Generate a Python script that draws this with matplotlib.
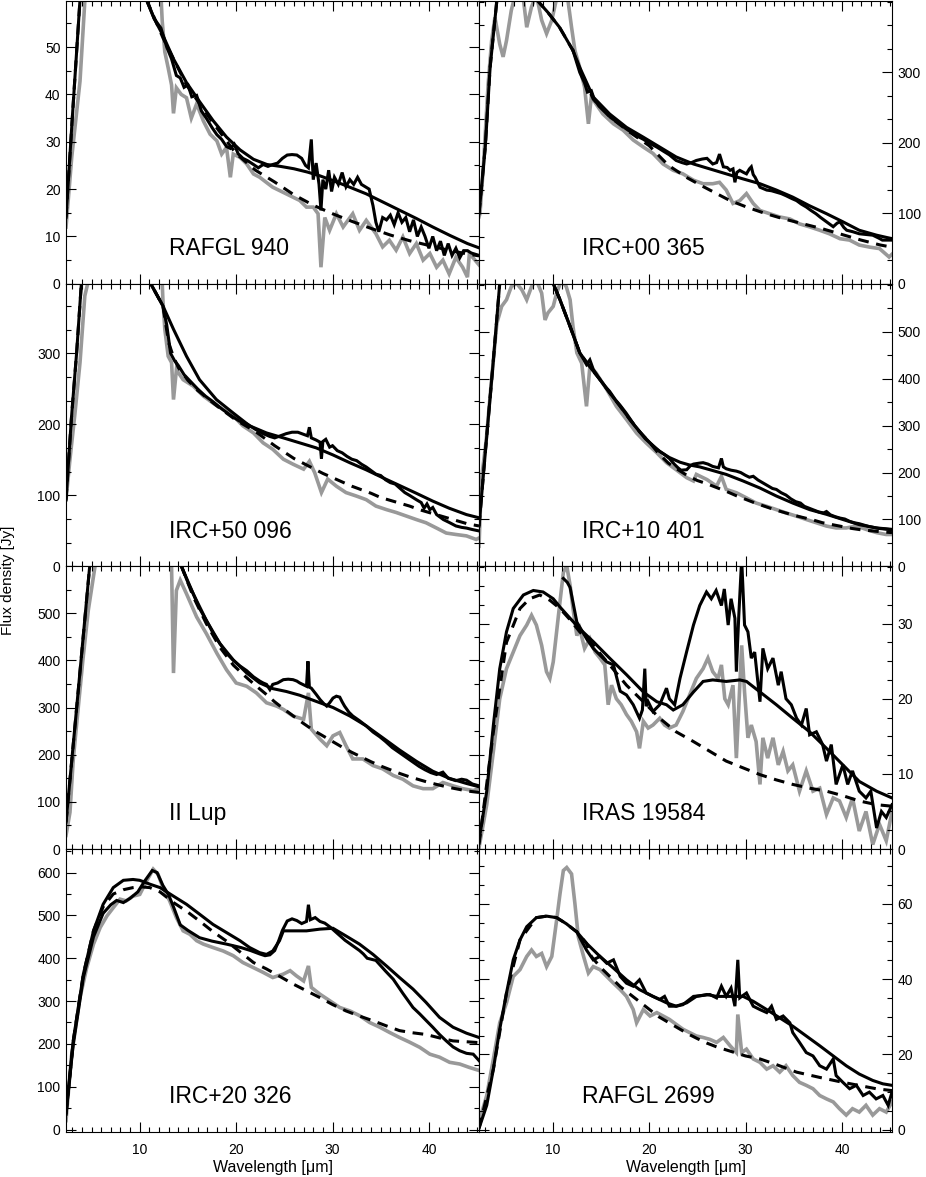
import numpy as np
import matplotlib.pyplot as plt
from matplotlib.ticker import MultipleLocator, AutoMinorLocator

plt.rcParams['font.family'] = ['Liberation Sans', 'DejaVu Sans']

# (wavelength [um], flux [Jy]), one list per curve

# RAFGL 940
afgl940_gray = [(2.35, 12), (2.94, 26.7), (3.8, 42.8), (4.3, 59.7), (5.0, 90), (8.0, 110), (11.5, 90),
                (12.33, 55.5), (12.6, 49), (12.95, 45.6), (13.3, 42), (13.5, 36), (13.8, 41.4), (14.3, 40),
                (14.85, 39.3), (15.35, 35), (15.9, 38), (16.6, 34.4), (17.3, 31.6), (18.0, 30.2), (18.5, 27.4),
                (19.0, 28.8), (19.4, 22.5), (19.7, 27.4), (20.4, 26.7), (21.1, 25.3), (21.8, 23.2), (22.45, 22.5),
                (23.15, 21.4), (23.8, 20.4), (24.5, 19.7), (25.2, 19.0), (25.9, 18.3), (26.6, 17.6), (27.3, 16.2),
                (28.0, 16.2), (28.5, 14.8), (28.8, 3.5), (29.2, 14), (29.7, 11.3), (30.4, 14.8), (31.1, 12),
                (32.1, 14.8), (32.8, 11.3), (33.5, 13.4), (34.5, 10.6), (35.2, 7.8), (35.9, 9.2), (36.6, 7.1),
                (37.3, 9.9), (38.0, 6.4), (38.7, 8.5), (39.4, 5), (40.1, 6.4), (40.8, 3.5), (41.45, 5),
                (42.1, 2.1), (42.8, 5.6), (43.5, 3.5), (44.0, 1.4), (44.2, 6.4), (45.2, 4)]
afgl940_dash = [(2.35, 14), (3.0, 35), (3.8, 60), (4.5, 80), (6.0, 110), (8.0, 110), (9.5, 85), (10.7, 60),
                (12.4, 52), (14.85, 42), (17.6, 34), (20.0, 27.5), (22.0, 24), (24.0, 21.5), (26.0, 18.8),
                (28.0, 16.6), (30.0, 14.8), (32.0, 13.2), (34.0, 11.7), (36.0, 10.3), (38.0, 9.1), (40.0, 8.1),
                (42.0, 7.1), (44.0, 6.3), (45.2, 5.9)]
afgl940_model = [(2.35, 14), (3.0, 35), (3.8, 60), (4.5, 80), (6.0, 110), (8.0, 110), (9.5, 85), (10.7, 60),
                 (11.5, 56), (12.4, 52.5), (13.5, 47.5), (14.85, 42.5), (16.2, 38.5), (17.6, 34.5), (19.0, 31),
                 (20.4, 28.3), (21.8, 26.3), (23.2, 25.2), (24.6, 24.8), (26.0, 24.3), (27.4, 23.6), (28.7, 22.8),
                 (30.05, 21.8), (31.8, 20.4), (33.5, 19), (35.2, 17.3), (37.0, 15.5), (38.7, 13.8), (40.4, 12),
                 (42.2, 10.2), (44.0, 8.5), (45.2, 7.6)]
afgl940_obs = [(10.7, 60), (11.5, 56), (12.2, 54), (12.8, 50), (13.3, 47.5), (13.8, 44), (14.2, 43.5),
               (14.6, 41.5), (15.0, 42), (15.4, 39.5), (15.9, 39.8), (16.4, 36.5), (16.9, 35), (17.5, 33),
               (18.0, 31.5), (18.5, 30.5), (19.0, 29), (19.4, 28.6), (19.8, 29.5), (20.2, 27.5), (20.7, 26.5),
               (21.2, 26), (21.8, 25.2), (22.3, 24.5), (22.8, 25.2), (23.3, 24.8), (23.8, 25.2), (24.3, 25.5),
               (24.8, 26.5), (25.3, 27.2), (25.8, 27.3), (26.3, 27.2), (26.8, 26.5), (27.2, 25), (27.5, 24.5),
               (27.8, 30.5), (28.0, 22), (28.3, 25.5), (28.6, 21), (28.8, 15.5), (29.0, 22), (29.3, 20),
               (29.6, 24), (29.9, 19.5), (30.2, 22.5), (30.6, 21), (31.0, 23.5), (31.4, 20.5), (31.8, 22),
               (32.2, 21), (32.6, 22.5), (33.0, 21), (33.4, 20.5), (33.8, 20), (34.2, 16.5), (34.5, 13),
               (34.8, 11), (35.2, 14), (35.6, 13.5), (36.0, 14.5), (36.4, 12.5), (36.8, 15), (37.2, 13),
               (37.6, 14), (38.0, 11), (38.4, 13.5), (38.8, 10), (39.2, 12), (39.6, 10), (40.0, 7.5),
               (40.4, 10), (40.8, 7), (41.2, 9), (41.6, 6), (42.0, 8.5), (42.4, 6), (42.8, 7.5), (43.2, 5.5),
               (43.6, 7), (44.0, 7), (44.4, 6.5), (45.2, 6)]

# IRC+00 365
irc00365_gray = [(2.35, 95), (2.45, 99.5), (2.8, 166), (3.3, 284), (3.66, 345), (4.0, 378), (4.5, 340),
                 (4.85, 322), (5.2, 345), (5.7, 388), (6.1, 410), (6.9, 410), (7.3, 364), (7.8, 393), (8.3, 410),
                 (8.85, 374), (9.36, 355), (9.9, 374), (10.4, 405), (11.5, 410), (11.95, 364), (12.3, 331),
                 (12.8, 307), (13.3, 279), (13.7, 227), (14.0, 265), (14.5, 255), (15.2, 241), (16.3, 227),
                 (17.3, 218), (18.35, 204), (19.4, 194), (20.4, 185), (21.45, 170), (22.5, 161), (23.5, 156),
                 (24.6, 147), (25.6, 142), (26.6, 142), (27.3, 144), (28.0, 133), (28.7, 114), (29.4, 118),
                 (30.1, 128), (30.8, 114), (31.5, 104), (32.5, 99.5), (33.5, 95), (34.6, 92), (35.6, 85),
                 (36.6, 81), (37.7, 76), (38.7, 71), (39.8, 64), (40.8, 62), (41.8, 55), (42.9, 52), (43.9, 50),
                 (44.9, 38), (45.2, 42)]
irc00365_dash = [(2.35, 99.5), (3.0, 194), (3.5, 307), (4.2, 402), (5.5, 470), (6.5, 480), (8.0, 420),
                 (8.4, 402), (9.5, 385), (10.7, 364), (12.1, 331), (12.8, 305), (14.2, 262), (16.0, 236),
                 (18.0, 215), (20.0, 196), (22.0, 168), (24.0, 150), (25.6, 138), (27.0, 128), (28.4, 118),
                 (30.1, 109), (32.0, 100), (34.0, 92), (36.0, 85), (38.0, 78), (40.0, 70), (42.0, 62),
                 (44.0, 55), (45.2, 52)]
irc00365_model = [(2.35, 99.5), (3.0, 194), (3.5, 307), (4.2, 402), (5.5, 470), (6.5, 480), (8.0, 420),
                  (8.4, 402), (9.5, 385), (10.7, 364), (12.1, 331), (12.8, 307), (14.2, 265), (15.9, 241),
                  (17.65, 222), (19.4, 208), (21.1, 194), (22.8, 180), (24.6, 170), (26.3, 163), (28.0, 156),
                  (29.7, 149), (31.5, 142), (33.2, 133), (34.9, 123), (36.6, 111), (38.4, 99.5), (40.1, 88),
                  (41.8, 76), (43.6, 69), (45.2, 64)]
irc00365_obs = [(12.1, 331), (12.8, 300), (13.3, 285), (13.6, 272), (14.0, 274), (14.3, 262), (14.8, 252),
                (15.4, 244), (16.0, 236), (16.6, 230), (17.3, 223), (18.0, 216), (18.7, 210), (19.4, 205),
                (20.1, 199), (20.8, 194), (21.5, 188), (22.1, 183), (22.8, 175), (23.4, 172), (23.9, 170),
                (24.4, 172), (24.9, 175), (25.5, 177), (26.0, 178), (26.6, 170), (27.0, 172), (27.3, 184),
                (27.7, 166), (28.1, 165), (28.4, 161), (28.7, 163), (28.9, 144), (29.1, 158), (29.4, 161),
                (29.8, 158), (30.1, 156), (30.4, 163), (30.6, 166), (30.8, 155), (31.0, 151), (31.5, 137),
                (32.2, 133), (32.7, 132), (33.2, 130), (33.7, 128), (34.2, 125), (34.8, 121), (35.3, 118),
                (35.8, 113), (36.3, 109), (36.8, 104), (37.3, 99.5), (37.8, 94), (38.4, 88), (38.8, 84),
                (39.1, 81), (39.5, 86), (39.8, 88), (40.2, 80), (40.5, 76), (41.1, 74), (41.8, 71), (42.5, 70),
                (43.2, 69), (43.8, 65), (44.2, 62), (44.7, 62), (45.2, 62)]

# IRC+50 096
irc50096_gray = [(2.35, 94), (2.76, 151), (3.28, 216), (3.8, 287), (4.3, 381), (4.7, 404), (6.0, 480),
                 (10.0, 480), (12.3, 410), (12.4, 376), (12.6, 334), (12.95, 296), (13.3, 287), (13.5, 235),
                 (13.8, 277), (14.5, 263), (15.55, 254), (16.6, 240), (17.6, 230), (18.65, 221), (19.7, 212),
                 (20.7, 198), (21.8, 188), (22.8, 174), (23.8, 165), (24.9, 151), (25.9, 144), (27.0, 137),
                 (27.6, 148), (28.15, 132), (28.85, 104), (29.5, 123), (30.4, 113), (31.4, 104), (32.5, 99),
                 (33.5, 94), (34.5, 85), (35.6, 80), (36.6, 76), (37.65, 71), (38.7, 66), (39.7, 61.5),
                 (40.8, 54), (41.8, 47), (42.8, 45), (43.9, 43), (44.9, 38), (45.2, 40)]
irc50096_dash = [(2.35, 94), (2.9, 207), (3.45, 301), (3.97, 404), (5.0, 500), (8.0, 520), (10.0, 450),
                 (10.9, 404), (12.4, 367), (13.0, 315), (13.5, 295), (14.0, 280), (15.0, 262), (16.0, 248),
                 (17.0, 237), (18.0, 226), (19.0, 216), (20.0, 206), (21.0, 198), (22.0, 190), (23.0, 180),
                 (24.0, 170), (25.0, 161), (26.0, 152), (27.0, 145), (28.0, 138), (29.0, 131), (30.0, 125),
                 (31.0, 119), (32.0, 113), (33.0, 108), (34.0, 103), (35.0, 97), (36.0, 93), (37.0, 89),
                 (38.0, 85), (39.0, 80), (40.0, 76), (41.0, 72), (42.0, 68), (43.0, 64), (44.0, 60), (45.2, 57)]
irc50096_model = [(2.35, 94), (2.9, 207), (3.45, 301), (3.97, 404), (5.0, 500), (8.0, 520), (10.0, 450),
                  (10.9, 404), (12.4, 367), (13.5, 334), (14.85, 296), (16.2, 263), (17.95, 235), (19.7, 216),
                  (21.4, 198), (23.15, 188), (24.9, 181), (26.6, 174), (28.3, 167), (30.05, 157), (31.8, 146),
                  (33.5, 136), (35.2, 125), (36.95, 114), (38.7, 103), (40.4, 92), (42.1, 82), (43.9, 73),
                  (45.2, 68.5)]
irc50096_obs = [(10.9, 404), (12.4, 367), (12.8, 340), (13.2, 300), (13.6, 290), (14.0, 283), (14.6, 270),
                (15.3, 260), (16.0, 250), (16.8, 240), (17.6, 232), (18.5, 222), (19.4, 213), (20.3, 205),
                (21.2, 200), (22.0, 193), (22.8, 187), (23.5, 183), (24.0, 181), (24.6, 184), (25.2, 187),
                (25.8, 189), (26.4, 189), (27.0, 186), (27.4, 184), (27.6, 196), (27.8, 181), (28.3, 178),
                (28.7, 175), (28.85, 152), (29.0, 176), (29.3, 179), (29.7, 168), (30.0, 170), (30.5, 163),
                (31.0, 160), (31.5, 155), (32.0, 151), (32.5, 149), (33.0, 144), (33.5, 140), (34.0, 135),
                (34.5, 130), (35.0, 128), (35.5, 122), (36.0, 118), (36.5, 116), (37.0, 110), (37.5, 104),
                (38.0, 100), (38.7, 94), (39.2, 90), (39.5, 82), (39.8, 88), (40.1, 80), (40.4, 83), (40.8, 73),
                (41.5, 66), (42.1, 62), (42.8, 57), (43.4, 55), (43.9, 54), (44.5, 52), (45.2, 50)]

# IRC+10 401
irc10401_gray = [(2.35, 43), (2.6, 185), (3.1, 270), (3.65, 398), (4.2, 518), (4.7, 554), (5.2, 568),
                 (5.7, 596), (6.25, 603), (6.8, 589), (7.3, 568), (7.8, 596), (8.3, 610), (8.85, 582),
                 (9.2, 525), (9.5, 540), (10.05, 554), (10.4, 582), (10.9, 610), (11.4, 596), (11.8, 568),
                 (12.1, 511), (12.5, 455), (13.0, 433), (13.5, 341), (13.85, 426), (14.5, 412), (15.6, 377),
                 (16.6, 341), (17.65, 313), (18.7, 284), (19.7, 263), (20.8, 242), (21.8, 221), (22.8, 206),
                 (23.9, 189), (24.6, 182), (24.9, 196), (26.0, 185), (27.0, 171), (27.5, 192), (28.0, 164),
                 (29.05, 157), (30.1, 146), (31.1, 135), (32.2, 128), (33.2, 121), (34.2, 114), (35.3, 107),
                 (36.3, 100), (37.35, 93), (38.4, 86), (39.4, 82), (40.45, 82), (41.5, 86), (42.5, 79),
                 (43.6, 72), (44.6, 68), (45.2, 68)]
irc10401_dash = [(2.35, 86), (3.0, 242), (3.8, 430), (4.5, 603), (5.0, 700), (8.0, 720), (9.5, 640),
                 (9.9, 610), (10.75, 568), (11.8, 511), (12.8, 455), (13.85, 425), (14.9, 398), (15.9, 370),
                 (17.0, 341), (18.0, 313), (19.0, 287), (20.1, 263), (21.0, 240), (22.0, 220), (23.0, 206),
                 (24.0, 193), (25.0, 183), (26.0, 176), (27.0, 168), (28.0, 160), (29.0, 151), (30.0, 143),
                 (31.0, 135), (32.0, 128), (33.0, 121), (34.0, 115), (35.0, 109), (36.0, 104), (37.0, 99),
                 (38.0, 93), (39.0, 89), (40.0, 85), (41.0, 81), (42.0, 78), (43.0, 76), (44.0, 74), (45.2, 72)]
irc10401_model = [(2.35, 86), (3.0, 242), (3.8, 430), (4.5, 603), (5.0, 700), (8.0, 720), (9.5, 640),
                  (9.9, 610), (10.75, 568), (11.8, 511), (12.8, 455), (13.85, 425), (14.9, 398), (15.9, 370),
                  (17.0, 341), (18.0, 313), (19.0, 287), (20.1, 263), (21.1, 245), (22.1, 232), (23.2, 222),
                  (24.2, 216), (25.25, 212), (26.3, 206), (28.0, 196), (29.75, 182), (31.5, 167), (33.2, 150),
                  (34.9, 135), (36.65, 121), (38.4, 111), (40.1, 100), (41.8, 89), (43.6, 82), (45.2, 79)]
irc10401_obs = [(9.9, 610), (10.75, 568), (11.8, 511), (12.8, 455), (13.5, 430), (13.85, 440), (14.2, 420),
                (14.9, 398), (15.5, 382), (15.9, 373), (16.5, 355), (17.0, 343), (17.6, 327), (18.0, 315),
                (18.5, 300), (19.0, 288), (19.6, 272), (20.1, 263), (20.6, 252), (21.1, 245), (21.6, 238),
                (22.1, 230), (22.6, 218), (23.0, 210), (23.3, 205), (23.9, 206), (24.3, 215), (24.6, 218),
                (25.2, 220), (25.6, 221), (26.1, 218), (26.6, 213), (27.2, 210), (27.5, 230), (27.7, 212),
                (28.0, 208), (28.5, 205), (29.05, 203), (29.5, 200), (30.0, 194), (30.4, 190), (30.8, 192),
                (31.3, 184), (31.8, 178), (32.3, 172), (32.8, 166), (33.2, 164), (33.7, 157), (34.2, 152),
                (34.7, 144), (35.2, 138), (35.7, 135), (36.1, 128), (36.6, 124), (37.1, 120), (37.6, 116),
                (38.1, 114), (38.4, 117), (38.8, 110), (39.3, 106), (39.8, 103), (40.3, 101), (40.8, 96),
                (41.3, 93), (41.8, 91), (42.3, 88), (42.8, 85), (43.3, 83), (43.8, 81), (44.3, 80), (45.2, 78)]

# II Lup
iilup_gray = [(2.35, 29), (2.76, 78), (3.1, 190), (3.6, 296), (4.1, 401), (4.66, 506), (5.35, 598),
              (6.0, 700), (12.0, 700), (13.3, 598), (13.5, 373), (13.8, 548), (14.2, 570), (14.85, 541),
              (15.9, 492), (16.9, 457), (18.0, 415), (19.0, 380), (20.0, 352), (21.1, 345), (22.1, 331),
              (23.15, 310), (24.2, 303), (24.9, 296), (25.9, 282), (27.0, 275), (27.5, 331), (27.8, 254),
              (28.7, 233), (29.4, 219), (30.05, 240), (30.75, 247), (31.4, 219), (32.1, 191), (33.15, 191),
              (34.2, 177), (35.2, 170), (36.3, 156), (37.3, 148), (38.35, 134), (39.4, 128), (40.4, 128),
              (41.45, 141), (42.5, 134), (43.5, 128), (44.6, 124), (45.2, 128)]
iilup_dash = [(2.35, 57), (3.5, 310), (4.8, 598), (5.5, 720), (9.0, 850), (12.0, 750), (13.5, 650),
              (14.35, 598), (15.55, 535), (16.9, 478), (18.3, 428), (19.7, 390), (21.0, 365), (22.0, 347),
              (23.0, 330), (24.0, 312), (25.0, 296), (26.0, 281), (27.0, 266), (28.0, 252), (29.0, 240),
              (30.0, 228), (31.0, 216), (32.0, 205), (33.0, 195), (34.0, 185), (35.0, 176), (36.0, 168),
              (37.0, 160), (38.0, 153), (39.0, 147), (40.0, 141), (41.0, 136), (42.0, 131), (43.0, 127),
              (44.0, 123), (45.2, 120)]
iilup_model = [(2.35, 57), (3.5, 310), (4.8, 598), (5.5, 720), (9.0, 850), (12.0, 750), (13.5, 650),
               (14.35, 598), (15.55, 541), (16.9, 485), (18.3, 436), (19.7, 401), (21.1, 373), (22.45, 352),
               (23.8, 340), (25.2, 334), (26.6, 326), (28.3, 313), (30.05, 300), (31.8, 282), (33.5, 261),
               (35.2, 236), (36.95, 210), (38.7, 186), (40.4, 165), (42.1, 150), (43.9, 139), (45.2, 132)]
iilup_obs = [(14.35, 598), (15.0, 565), (15.55, 541), (16.2, 510), (16.9, 485), (17.6, 458), (18.3, 436),
             (19.0, 415), (19.7, 400), (20.4, 388), (21.1, 378), (21.8, 365), (22.45, 356), (22.8, 352),
             (23.15, 349), (23.5, 338), (23.8, 349), (24.3, 352), (24.9, 359), (25.4, 360), (25.9, 359),
             (26.3, 356), (26.6, 352), (27.0, 348), (27.3, 345), (27.45, 398), (27.6, 343), (27.8, 341),
             (28.3, 328), (28.7, 317), (29.1, 308), (29.4, 303), (29.7, 310), (30.05, 320), (30.4, 324),
             (30.75, 322), (31.0, 312), (31.25, 303), (31.7, 290), (32.1, 282), (32.8, 272), (33.5, 261),
             (34.2, 248), (34.9, 238), (35.5, 228), (36.2, 215), (36.9, 205), (37.6, 195), (38.3, 185),
             (39.0, 175), (39.6, 168), (40.2, 162), (40.8, 158), (41.45, 163), (42.0, 150), (42.8, 145),
             (43.4, 148), (43.9, 146), (44.5, 138), (45.2, 134)]

# IRAS 19584
iras19584_gray = [(2.35, 0.2), (3.15, 5.9), (3.84, 13), (4.5, 20), (5.2, 24), (5.9, 26.2), (6.6, 28.4),
                  (7.3, 29.8), (7.8, 31.1), (8.3, 29.8), (8.85, 27.1), (9.35, 23.6), (9.7, 22.7), (10.05, 24.9),
                  (10.4, 28.9), (10.75, 32.9), (11.1, 36.8), (11.45, 37.7), (11.8, 35.1), (12.1, 32),
                  (12.5, 28.4), (12.8, 29.3), (13.3, 26.7), (13.85, 28), (14.4, 26.2), (14.9, 25.4),
                  (15.4, 24.5), (15.75, 19.2), (16.1, 21.8), (16.6, 20), (17.1, 19.2), (17.65, 17.9),
                  (18.15, 17), (18.7, 15.6), (19.0, 13.4), (19.4, 17), (19.9, 16.1), (20.4, 16.5), (21.1, 17.4),
                  (21.6, 16.5), (22.1, 16.1), (22.8, 16.5), (23.5, 18.3), (24.2, 20.5), (24.9, 22.7),
                  (25.6, 24), (26.1, 25.4), (26.6, 23.6), (27.15, 22.7), (27.5, 24.5), (27.85, 20),
                  (28.2, 19.2), (28.7, 21.8), (29.05, 12.1), (29.6, 27.1), (29.9, 20.9), (30.25, 14.8),
                  (30.6, 16.5), (31.1, 14.3), (31.5, 8.6), (31.8, 14.8), (32.3, 12.1), (32.85, 14.8),
                  (33.4, 11.2), (33.9, 13), (34.4, 10.4), (34.9, 11.2), (35.6, 7.7), (36.3, 10.4), (37.0, 7.7),
                  (37.7, 8.1), (38.4, 4.6), (39.1, 6.8), (39.75, 6.4), (40.45, 4.2), (41.1, 6.8), (41.8, 2.4),
                  (42.5, 5), (43.2, 0.6), (43.9, 3.3), (44.6, 1.1), (45.2, 5)]
iras19584_dash = [(2.35, 0.6), (3.84, 15.6), (5.2, 27.5), (6.6, 32), (7.6, 33.3), (8.65, 33.8), (9.7, 33.1),
                  (10.75, 32), (11.8, 30.5), (12.8, 28.9), (14.2, 27.1), (15.9, 24.5), (17.65, 21.8),
                  (19.4, 19.6), (21.1, 17.4), (22.8, 15.6), (24.6, 14.3), (26.3, 13), (28.0, 11.7),
                  (29.75, 10.8), (31.5, 9.9), (33.2, 9.2), (34.9, 8.6), (36.65, 8.1), (38.4, 7.7), (40.1, 7.1),
                  (41.8, 6.4), (43.6, 5.9), (45.2, 5.7)]
iras19584_model = [(2.35, 1.1), (3.15, 7.7), (3.84, 16.5), (4.5, 24), (5.2, 28.9), (5.9, 32), (6.95, 33.8),
                   (7.98, 34.4), (9.0, 34.2), (10.05, 33.3), (10.75, 32.2), (11.8, 30.7), (12.8, 29.3),
                   (14.2, 27.6), (15.9, 25.4), (17.65, 23.2), (19.4, 20.9), (20.8, 19.6), (21.8, 19.2),
                   (22.5, 18.5), (23.5, 19.2), (24.6, 20.9), (25.6, 22.3), (26.6, 22.5), (28.0, 22.3),
                   (29.4, 22.5), (30.1, 22.3), (31.5, 20.9), (33.2, 19.2), (34.9, 17.4), (36.65, 15.6),
                   (38.4, 13.4), (40.1, 11.2), (41.8, 9.0), (43.6, 7.7), (45.2, 6.8)]
iras19584_obs = [(11.1, 36.0), (11.5, 35.5), (11.8, 34.8), (12.5, 30.2), (13.5, 28.0), (14.2, 26.7),
                 (14.9, 25.8), (15.6, 24.9), (16.3, 24.5), (17.0, 21.0), (17.65, 20.5), (18.35, 19.2),
                 (19.0, 17.4), (19.3, 18.5), (19.55, 24.0), (19.7, 19.0), (19.9, 19.6), (20.4, 18.3),
                 (21.1, 19.2), (21.8, 21.4), (22.1, 20.0), (22.65, 19.2), (23.2, 22.7), (23.9, 26.3),
                 (24.6, 29.8), (25.25, 32.4), (25.95, 34.2), (26.45, 33.3), (26.95, 34.4), (27.5, 32.4),
                 (27.8, 34.6), (28.2, 29.8), (28.5, 33.3), (28.9, 30.7), (29.05, 23.6), (29.3, 31.0),
                 (29.6, 38.6), (29.9, 29.8), (30.25, 28.9), (30.6, 25.4), (30.95, 26.2), (31.5, 19.6),
                 (31.8, 26.7), (32.3, 24.0), (32.85, 25.4), (33.4, 21.8), (33.7, 23.6), (34.2, 20.0),
                 (34.75, 19.2), (35.3, 17.4), (35.8, 16.5), (36.3, 18.7), (36.65, 15.2), (37.35, 15.6),
                 (38.0, 13.9), (38.4, 11.7), (38.9, 13.9), (39.4, 8.6), (40.1, 11.2), (40.6, 8.6), (41.1, 10.4),
                 (41.8, 7.7), (42.5, 6.8), (43.0, 7.7), (43.6, 2.8), (44.1, 5.0), (44.6, 4.2), (45.2, 5.9)]

# IRC+20 326
irc20326_gray = [(2.35, 21), (2.9, 169), (3.8, 308), (4.5, 378), (5.2, 433), (5.9, 472), (6.6, 499),
                 (7.25, 518), (7.95, 538), (8.6, 534), (9.3, 545), (10.0, 549), (10.7, 580), (11.4, 608),
                 (11.9, 596), (12.4, 565), (13.1, 534), (13.8, 495), (14.5, 464), (15.2, 456), (15.9, 441),
                 (16.6, 433), (17.6, 425), (18.65, 417), (19.7, 406), (20.7, 390), (21.8, 378), (22.8, 367),
                 (23.8, 355), (24.9, 363), (25.6, 371), (26.25, 359), (27.0, 347), (27.5, 382), (27.8, 332),
                 (28.7, 316), (29.7, 301), (30.75, 285), (31.8, 277), (32.8, 266), (33.85, 250), (34.9, 239),
                 (35.9, 227), (36.95, 215), (38.0, 204), (39.05, 192), (40.1, 176), (41.1, 169), (42.15, 157),
                 (43.2, 153), (44.2, 145), (45.2, 138)]
irc20326_dash = [(2.35, 36.5), (3.1, 207), (4.15, 363), (5.2, 464), (6.2, 520), (7.25, 550), (8.3, 560),
                 (9.3, 565), (10.0, 567), (11.05, 565), (12.1, 555), (13.5, 530), (14.85, 510), (16.2, 487),
                 (17.6, 462), (19.0, 440), (20.4, 415), (21.8, 390), (23.15, 375), (24.5, 358), (25.9, 340),
                 (27.3, 324), (28.7, 308), (30.0, 292), (31.4, 277), (32.8, 265), (34.2, 254), (35.6, 242),
                 (36.95, 231), (38.3, 226), (39.7, 222), (41.1, 214), (42.5, 207), (43.9, 205), (45.2, 203)]
irc20326_model = [(2.35, 36.5), (3.1, 207), (4.15, 363), (5.2, 464), (6.2, 526), (7.25, 565), (8.3, 582),
                  (9.3, 584), (10.0, 582), (11.05, 573), (12.1, 565), (13.5, 545), (14.85, 526), (16.2, 503),
                  (17.6, 479), (19.0, 460), (20.4, 441), (21.4, 425), (22.45, 413), (23.15, 409), (23.8, 417),
                  (24.5, 441), (24.9, 464), (25.9, 464), (27.3, 464), (28.7, 468), (30.05, 470), (31.4, 452),
                  (32.8, 433), (34.2, 409), (35.6, 382), (36.95, 355), (38.35, 328), (39.7, 297), (41.1, 262),
                  (42.5, 239), (43.9, 225), (45.2, 215)]
irc20326_obs = [(2.35, 36), (3.1, 200), (4.15, 355), (5.2, 450), (6.2, 505), (7.0, 525), (7.6, 535),
                (8.3, 530), (9.0, 540), (9.8, 555), (10.5, 580), (11.3, 605), (11.8, 600), (12.4, 570),
                (13.0, 548), (13.5, 520), (14.2, 478), (15.0, 465), (16.2, 448), (17.5, 440), (19.0, 433),
                (20.5, 425), (21.5, 418), (22.45, 410), (23.0, 406), (23.5, 408), (24.0, 418), (24.4, 440),
                (24.8, 465), (25.3, 487), (25.8, 492), (26.3, 488), (26.8, 481), (27.3, 486), (27.5, 525),
                (27.7, 490), (28.2, 495), (28.7, 486), (29.2, 482), (29.8, 472), (30.3, 462), (30.8, 452),
                (31.3, 442), (31.8, 434), (32.3, 426), (32.8, 418), (33.2, 410), (33.6, 400), (34.5, 395),
                (35.5, 370), (36.3, 351), (37.3, 318), (38.35, 285), (39.05, 270), (39.7, 255), (40.4, 239),
                (41.1, 222), (41.8, 207), (42.5, 193), (43.2, 184), (43.9, 178), (44.6, 176), (45.2, 161)]

# RAFGL 2699
afgl2699_gray = [(2.35, 2.1), (3.15, 9.1), (3.84, 18.8), (4.5, 28.4), (5.2, 33.7), (5.9, 40.7), (6.6, 42.5),
                 (7.3, 46), (7.8, 47.7), (8.3, 46), (8.85, 46.8), (9.36, 43.3), (9.9, 46), (10.4, 55.6),
                 (10.75, 62.6), (11.1, 68.8), (11.45, 69.6), (11.95, 67.9), (12.3, 60), (12.65, 51.2),
                 (13.2, 46), (13.7, 41.6), (14.2, 43.3), (14.9, 42.5), (15.6, 40.7), (16.3, 38.9), (17.0, 37.2),
                 (17.65, 35.4), (18.35, 31.9), (18.7, 28.4), (19.4, 31.9), (20.1, 30.2), (20.8, 31.1),
                 (21.45, 30.2), (22.1, 29.3), (22.8, 28), (23.5, 26.7), (24.2, 25.8), (24.9, 24.9), (25.6, 24.5),
                 (26.3, 24), (27.0, 23.2), (27.7, 24.5), (28.4, 22.3), (29.05, 20.5), (29.2, 30.6), (29.6, 20.5),
                 (30.1, 21.4), (30.8, 18.8), (31.5, 17.9), (32.2, 16.1), (32.85, 17), (33.55, 15.3), (34.2, 17),
                 (34.9, 14.4), (35.6, 12.6), (36.3, 11.8), (37.0, 10.9), (37.7, 9.1), (38.4, 8.2), (39.1, 7.4),
                 (39.75, 5.6), (40.45, 3.9), (41.1, 5.6), (41.8, 4.7), (42.5, 6.5), (43.2, 3.9), (43.9, 5.6),
                 (44.6, 4.7), (45.2, 7.4)]
afgl2699_dash = [(2.35, 0.4), (3.84, 16.1), (5.2, 36.3), (6.6, 50.4), (8.3, 56.3), (9.36, 56.7), (10.4, 56.3),
                 (11.4, 54.7), (12.5, 52.5), (13.5, 49.5), (14.0, 46), (15.0, 43), (16.0, 40.5), (17.0, 38),
                 (18.0, 36), (19.0, 34), (20.0, 32), (21.0, 30), (22.0, 28.5), (23.0, 27), (24.0, 25.5),
                 (25.0, 24.2), (26.0, 23), (27.0, 22), (28.0, 21.2), (29.0, 20.4), (30.0, 19.6), (31.5, 18.8),
                 (33.0, 17.5), (35.3, 15.3), (37.7, 13.9), (40.1, 12.6), (43.55, 10.9), (45.2, 10.4)]
afgl2699_model = [(2.35, 0.4), (3.15, 6.5), (3.84, 16.1), (4.5, 26.7), (5.2, 36.3), (5.9, 45.1), (6.6, 50.4),
                  (7.3, 53.9), (8.3, 56.3), (9.36, 56.7), (10.4, 56.3), (11.4, 54.7), (12.5, 52.5),
                  (13.5, 49.5), (14.9, 46), (16.3, 42.9), (17.65, 39.8), (19.0, 37.2), (20.4, 35.4),
                  (21.8, 33.7), (22.8, 32.8), (23.9, 33.7), (24.9, 35.4), (26.0, 35.9), (27.0, 35.4),
                  (28.4, 35.4), (29.75, 35.4), (30.8, 34.1), (32.2, 31.9), (33.55, 29.7), (34.9, 27.5),
                  (36.3, 24.9), (37.7, 22.3), (39.1, 19.6), (40.45, 17), (41.8, 14.8), (43.2, 13.1),
                  (44.25, 12.2), (45.2, 11.8)]
afgl2699_obs = [(12.5, 52.5), (13.5, 47.7), (14.2, 45.1), (14.9, 46.0), (15.6, 44.2), (16.3, 45.1),
                (17.0, 40.7), (17.65, 38.9), (18.35, 38.1), (19.0, 39.8), (19.7, 36.3), (20.4, 35.4),
                (21.1, 34.6), (21.6, 35.4), (22.1, 32.8), (22.8, 32.8), (23.5, 33.2), (24.0, 34.2),
                (24.6, 35.4), (25.4, 35.6), (26.3, 35.9), (27.0, 35.0), (27.5, 38.1), (28.0, 35.4),
                (28.5, 37.6), (28.9, 32.8), (29.2, 45.1), (29.4, 35.0), (29.6, 35.4), (30.1, 36.3),
                (30.8, 32.8), (31.5, 31.9), (32.2, 31.1), (32.7, 32.8), (33.2, 29.3), (33.9, 30.2),
                (34.6, 28.4), (34.9, 25.8), (35.6, 23.2), (36.3, 20.5), (37.0, 19.6), (37.7, 17.0),
                (38.4, 16.1), (39.1, 18.8), (39.4, 14.4), (40.1, 12.6), (40.8, 10.9), (41.5, 11.8),
                (42.2, 9.1), (42.85, 10.0), (43.55, 8.2), (44.25, 9.1), (44.8, 6.5), (45.2, 10.0)]

# panel order: left/right, top to bottom
names = ['RAFGL 940', 'IRC+00 365', 'IRC+50 096', 'IRC+10 401',
         'II Lup', 'IRAS 19584', 'IRC+20 326', 'RAFGL 2699']
y_limits = [(0, 59.7), (0, 401), (0, 398), (0, 602), (0, 599), (0, 37.6), (-5, 655), (-0.5, 74.5)]
y_ticks = [[0, 10, 20, 30, 40, 50], [0, 100, 200, 300], [0, 100, 200, 300], [0, 100, 200, 300, 400, 500],
           [0, 100, 200, 300, 400, 500], [0, 10, 20, 30], [0, 100, 200, 300, 400, 500, 600], [0, 20, 40, 60]]
y_minor = [2, 3, 3, 2, 2, 4, 2, 4]
x_ticks = [10, 20, 30, 40]

curves = [
    (afgl940_gray, afgl940_dash, afgl940_model, afgl940_obs),
    (irc00365_gray, irc00365_dash, irc00365_model, irc00365_obs),
    (irc50096_gray, irc50096_dash, irc50096_model, irc50096_obs),
    (irc10401_gray, irc10401_dash, irc10401_model, irc10401_obs),
    (iilup_gray, iilup_dash, iilup_model, iilup_obs),
    (iras19584_gray, iras19584_dash, iras19584_model, iras19584_obs),
    (irc20326_gray, irc20326_dash, irc20326_model, irc20326_obs),
    (afgl2699_gray, afgl2699_dash, afgl2699_model, afgl2699_obs),
]

styles = [
    dict(color='0.6', lw=2.6, zorder=1),
    dict(color='k', lw=2.2, ls=(0, (3.5, 2.5)), zorder=2),
    dict(color='k', lw=2.2, zorder=3),
    dict(color='k', lw=2.2, zorder=4),
]

fig, axes = plt.subplots(4, 2, figsize=(9.26, 11.77), dpi=100, sharex=True)
fig.subplots_adjust(left=0.0713, right=0.9633, top=0.999, bottom=0.0385, wspace=0, hspace=0)

for i, ax in enumerate(axes.flat):
    for data, st in zip(curves[i], styles):
        d = np.array(data)
        ax.plot(d[:, 0], d[:, 1], solid_joinstyle='miter', **st)

    ax.set_xlim(2.35, 45.2)
    ax.set_ylim(*y_limits[i])
    ax.set_xticks(x_ticks)
    ax.xaxis.set_minor_locator(MultipleLocator(1))
    ax.set_yticks(y_ticks[i])
    ax.yaxis.set_minor_locator(AutoMinorLocator(y_minor[i]))
    ax.tick_params(which='both', direction='in', top=True, bottom=True, left=True, right=True,
                   labelsize=10, pad=4, width=0.8)
    ax.tick_params(axis='x', which='both', pad=8)
    ax.tick_params(which='major', length=7)
    ax.tick_params(which='minor', length=3.5)
    if i % 2 == 1:
        ax.tick_params(labelleft=False, labelright=True)
    for sp in ax.spines.values():
        sp.set_linewidth(0.8)

    ax.text(0.25, 0.125, names[i], transform=ax.transAxes, fontsize=16.5, va='center', ha='left')

for ax in axes[-1]:
    ax.set_xlabel('Wavelength [μm]', fontsize=11.5, labelpad=2)

fig.text(0.0086, 0.507, 'Flux density [Jy]', rotation=90, ha='center', va='center', fontsize=11)

fig.savefig('out.png', dpi=100)
